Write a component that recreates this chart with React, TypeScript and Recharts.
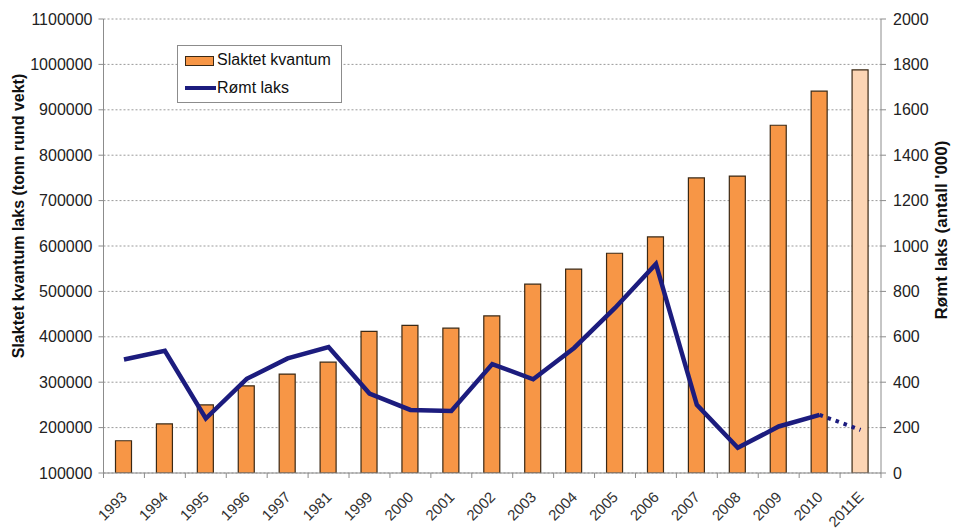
import { ComposedChart, Bar, Line, XAxis, YAxis, CartesianGrid, Cell } from "recharts";

document.body.style.margin = "0";

const years = [
  "1993", "1994", "1995", "1996", "1997", "1981", "1999", "2000", "2001", "2002",
  "2003", "2004", "2005", "2006", "2007", "2008", "2009", "2010", "2011E",
];
const slaktet = [
  171000, 208000, 250000, 292000, 318000, 344000, 412000, 425000, 419000, 446000,
  516000, 549000, 584000, 620000, 750000, 754000, 866000, 941000, 988000,
];
const romt = [
  500, 538, 240, 415, 505, 555, 350, 278, 273, 480,
  413, 551, 727, 921, 300, 111, 205, 256, null,
];
const romtEstimat = [
  null, null, null, null, null, null, null, null, null, null,
  null, null, null, null, null, null, null, 256, 190,
];
const leftTicks = [100000, 200000, 300000, 400000, 500000, 600000, 700000, 800000, 900000, 1000000, 1100000];
const rightTicks = [0, 200, 400, 600, 800, 1000, 1200, 1400, 1600, 1800, 2000];

const data = years.map((year, i) => ({
  year,
  slaktet: slaktet[i],
  romt: romt[i],
  romtEstimat: romtEstimat[i],
}));

const FONT = "'Liberation Sans', Arial, sans-serif";
const ORANGE = "#F79646";
const ORANGE_LIGHT = "#FCD5B4";
const BAR_EDGE = "#3a2814";
const NAVY = "#1c1c7e";
const AXIS = "#8c8c8c";
const HALF_BAND = 20.46;

function YearTick(props: any) {
  const { x, y, payload, index } = props;
  const tx = x + 4;
  const ty = y + 25;
  return (
    <g>
      <line x1={x - HALF_BAND} y1={y} x2={x - HALF_BAND} y2={y + 5} stroke={AXIS} />
      {index === years.length - 1 && (
        <line x1={x + HALF_BAND} y1={y} x2={x + HALF_BAND} y2={y + 5} stroke={AXIS} />
      )}
      <text
        x={tx}
        y={ty}
        transform={`rotate(-45, ${tx}, ${ty})`}
        textAnchor="end"
        fontSize={15}
        fontFamily={FONT}
        fill="#333"
      >
        {payload.value}
      </text>
    </g>
  );
}

export default function App() {
  return (
    <div style={{ position: "relative", width: 953, height: 528, background: "#fff" }}>
      <ComposedChart
        width={953}
        height={528}
        data={data}
        margin={{ top: 19, right: 8, bottom: 5, left: 10 }}
      >
        <CartesianGrid
          yAxisId="left"
          vertical={false}
          stroke="#9a9a9a"
          strokeDasharray="2 2"
        />
        <XAxis
          dataKey="year"
          interval={0}
          height={50}
          axisLine={{ stroke: AXIS }}
          tickLine={false}
          tickSize={0}
          tickMargin={0}
          tick={<YearTick />}
        />
        <YAxis
          yAxisId="left"
          orientation="left"
          width={93.5}
          domain={[100000, 1100000]}
          ticks={leftTicks}
          interval={0}
          allowDataOverflow
          axisLine={{ stroke: AXIS }}
          tickLine={{ stroke: AXIS }}
          tickSize={5}
          tickMargin={6}
          tick={{ fontSize: 16, fontFamily: FONT, fill: "#222" }}
          label={{
            value: "Slaktet kvantum laks (tonn rund vekt)",
            angle: -90,
            position: "insideLeft",
            offset: 8,
            dy: -30,
            style: { textAnchor: "middle", fontSize: 16, fontWeight: "bold", fontFamily: FONT, fill: "#111" },
          }}
        />
        <YAxis
          yAxisId="right"
          orientation="right"
          width={64}
          domain={[0, 2000]}
          ticks={rightTicks}
          interval={0}
          axisLine={{ stroke: AXIS }}
          tickLine={{ stroke: AXIS }}
          tickSize={5}
          tickMargin={7}
          tick={{ fontSize: 16, fontFamily: FONT, fill: "#222" }}
          label={{
            value: "Rømt laks (antall '000)",
            angle: -90,
            position: "insideRight",
            offset: 4,
            dy: -16,
            style: { textAnchor: "middle", fontSize: 17, fontWeight: "bold", fontFamily: FONT, fill: "#111" },
          }}
        />
        <Bar
          yAxisId="left"
          dataKey="slaktet"
          barSize={16}
          fill={ORANGE}
          stroke={BAR_EDGE}
          strokeWidth={1.2}
          isAnimationActive={false}
        >
          {data.map((d, i) => (
            <Cell key={d.year} fill={i === data.length - 1 ? ORANGE_LIGHT : ORANGE} />
          ))}
        </Bar>
        <Line
          yAxisId="right"
          type="linear"
          dataKey="romt"
          stroke={NAVY}
          strokeWidth={4.5}
          dot={false}
          activeDot={false}
          connectNulls={false}
          isAnimationActive={false}
        />
        <Line
          yAxisId="right"
          type="linear"
          dataKey="romtEstimat"
          stroke={NAVY}
          strokeWidth={4}
          strokeDasharray="3.5 5"
          dot={false}
          activeDot={false}
          isAnimationActive={false}
        />
      </ComposedChart>
      <div
        style={{
          position: "absolute",
          left: 177,
          top: 45,
          width: 163,
          height: 56,
          border: "1px solid #8c8c8c",
          background: "#fff",
          fontFamily: FONT,
          fontSize: 16,
          color: "#111",
        }}
      >
        <div style={{ position: "absolute", left: 7, top: 10, width: 27, height: 8, background: ORANGE, border: `1px solid ${BAR_EDGE}` }} />
        <div style={{ position: "absolute", left: 39, top: 4, lineHeight: "20px" }}>Slaktet kvantum</div>
        <div style={{ position: "absolute", left: 7, top: 40, width: 31, height: 4, background: NAVY }} />
        <div style={{ position: "absolute", left: 39, top: 32, lineHeight: "20px" }}>Rømt laks</div>
      </div>
    </div>
  );
}
